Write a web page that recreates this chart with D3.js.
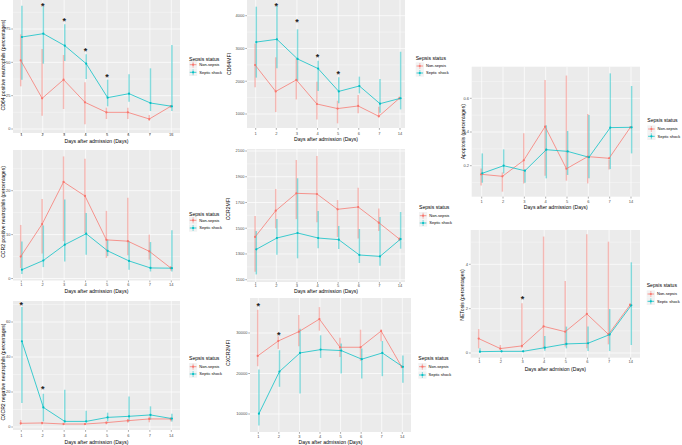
<!DOCTYPE html>
<html><head><meta charset="utf-8">
<script src="https://cdn.jsdelivr.net/npm/d3@7"></script>
<style>body{margin:0;background:#fff} svg{display:block} text{font-family:"Liberation Sans",Arial,sans-serif}</style>
</head><body><svg id="c" width="682" height="445"></svg>
<script>
const days = ["1","2","3","4","5","6","7","14"];
const groups = ["Non-sepsis","Septic shock"];
const colors = ["#F8766D","#00BFC4"];

// Panel A: CD64 positive neutrophils (%)
const cd64pTicks = [0,25,50,75];
const cd64pNon   = [51.5,23,37,20,12.5,12.5,7.5,17];
const cd64pNonLo = [32,10,15,3.5,7.5,7.5,6,16];
const cd64pNonHi = [71,60,55.5,35,16,16,10.5,18];
const cd64pSep   = [69,71.5,62.5,49,23.5,26.5,19.5,17];
const cd64pSepLo = [37,49,51,37.5,17,20.5,13.5,13.5];
const cd64pSepHi = [92.5,92,78.5,56,37,41,45.5,63];
const cd64pStarDays = ["2","3","4","5"];
const cd64pStarVals = [93.5,82.5,60,40.5];

// Panel B: CCR2 positive neutrophils (%)
const ccr2pTicks = [0,10,20];
const ccr2pNon   = [5,12.4,22,18.8,8.8,8.5,6.2,2.4];
const ccr2pNonLo = [2.4,5.7,8.5,10.3,4.7,5.3,4.3,1.8];
const ccr2pNonHi = [12.2,18.1,27.8,27.3,15.4,18.4,10,2.8];
const ccr2pSep   = [2,4.1,7.7,10.2,6.3,4,2.4,2.35];
const ccr2pSepLo = [1,2.6,3.9,5.4,5.1,2,1.6,1.6];
const ccr2pSepHi = [8.4,12.1,18,14.9,8.8,8.5,8.3,11];

// Panel C: CXCR2 negative neutrophils (%)
const cxcr2nTicks = [0,20,40,60];
const cxcr2nNon   = [2.1,2.3,1.7,1.7,2.5,3.6,4.6,4.6];
const cxcr2nNonLo = [1.3,1.5,1.2,1.2,1.5,2.5,2.7,3.2];
const cxcr2nNonHi = [4,3,2.5,2.3,3,4.6,5.9,5.5];
const cxcr2nSep   = [49,11.2,3.2,3.2,5.5,6.1,6.9,4.8];
const cxcr2nSepLo = [13.7,3.2,2.7,2.7,3.2,3.2,4.2,3.2];
const cxcr2nSepHi = [68.6,19,21.3,9.3,8.2,17.5,11.8,7.6];
const cxcr2nStarDays = ["1","2"];
const cxcr2nStarVals = [70.9,22.7];

// Panel D: CD64MFI
const cd64mTicks = [1000,2000,3000,4000];
const cd64mNon   = [2495,1690,2040,1305,1165,1245,930,1480];
const cd64mNonLo = [1815,1060,1445,835,715,1020,900,1430];
const cd64mNonHi = [3155,2730,2700,1985,1405,1580,1225,1530];
const cd64mSep   = [3195,3280,2680,2385,1690,1855,1315,1480];
const cd64mSepLo = [2110,2395,2005,1700,1325,1630,1040,1140];
const cd64mSepHi = [4275,4295,3585,2625,2120,2140,2070,2900];
const cd64mStarDays = ["2","3","4","5"];
const cd64mStarVals = [4360,3870,2780,2260];

// Panel E: CCR2MFI
const ccr2mTicks = [1100,1300,1500,1700,1900,2100];
const ccr2mNon   = [1432,1636,1771,1766,1647,1665,1543,1416];
const ccr2mNonLo = [1162,1499,1571,1546,1432,1421,1478,1400];
const ccr2mNonHi = [1595,1805,2030,2061,1719,1815,1654,1430];
const ccr2mSep   = [1336,1424,1463,1424,1411,1292,1281,1416];
const ccr2mSepLo = [1141,1294,1266,1344,1338,1230,1209,1341];
const ccr2mSepHi = [1478,1571,1888,1634,1517,1494,1587,1626];

// Panel F: CXCR2MFI
const cxcr2mTicks = [10000,20000,30000];
const cxcr2mNon   = [24340,28030,30330,33440,26480,26480,30490,21640];
const cxcr2mNonLo = [21800,26070,26720,30570,24100,23120,27950,21300];
const cxcr2mNonHi = [35740,29180,34430,36390,28850,30820,30900,22000];
const cxcr2mSep   = [10080,20490,25080,25900,25660,23530,25080,21640];
const cxcr2mSepLo = [7130,16720,15080,23850,20000,18770,19340,17700];
const cxcr2mSepHi = [20980,25740,31070,29430,27380,26150,28030,24430];
const cxcr2mStarDays = ["1","2"];
const cxcr2mStarVals = [36970,29840];

// Panel G: Apoptosis (%)
const apoTicks = [0.2,0.4,0.6];
const apoNon   = [0.149,0.137,0.232,0.432,0.182,0.254,0.244,0.428];
const apoNonLo = [0.083,0.046,0.095,0.141,0.111,0.095,0.178,0.424];
const apoNonHi = [0.184,0.16,0.392,0.709,0.735,0.507,0.234,0.432];
const apoSep   = [0.155,0.2,0.17,0.295,0.285,0.25,0.426,0.428];
const apoSepLo = [0.099,0.154,0.099,0.125,0.145,0.125,0.18,0.273];
const apoSepHi = [0.273,0.297,0.18,0.44,0.406,0.501,0.748,0.673];

// Panel H: NETosis (%)
const netTicks = [0,2,4];
const netNon   = [0.65,0.2,0.32,1.2,0.96,1.76,0.84,2.17];
const netNonLo = [0.21,0.14,0.21,0.21,0.29,0.21,0.39,2.1];
const netNonHi = [1.08,0.36,2.24,5.25,3.25,5.35,5.02,2.24];
const netSep   = [0.06,0.075,0.075,0.24,0.41,0.44,0.83,2.15];
const netSepLo = [0.015,0.04,0.04,0.1,0.21,0.09,0.09,0.36];
const netSepHi = [0.21,0.11,0.11,0.77,1.19,1.19,1.98,4.09];
const netStarDays = ["3"];
const netStarVals = [2.51];

const panels = [
 {yt:"CD64 positive neutrophils (percentages)", xt:"Days after admission (Days)", ticks:cd64pTicks, fmt:d=>d,
  s:[[cd64pNon,cd64pNonLo,cd64pNonHi],[cd64pSep,cd64pSepLo,cd64pSepHi]], sd:cd64pStarDays, sv:cd64pStarVals,
  L:{x0:13,x1:180,y0:0,y1:133,xf:21.3,xl:171.3,ya:[0,129],yb:[75,29],tickY:135.8,titleY:142.9,ytx:3.3,yty:65,lx:189,ly:60.5,k1:64.7,k2:72.3}},
 {yt:"CCR2 positive neutrophils (percentages)", xt:"Days after admission (Days)", ticks:ccr2pTicks, fmt:d=>d,
  s:[[ccr2pNon,ccr2pNonLo,ccr2pNonHi],[ccr2pSep,ccr2pSepLo,ccr2pSepHi]], sd:[], sv:[],
  L:{x0:13,x1:180,y0:150,y1:280.5,xf:21.3,xl:171.3,ya:[0,278.5],yb:[20,190.7],tickY:285.5,titleY:292.8,ytx:3.3,yty:212,lx:189,ly:215.8,k1:220.3,k2:228}},
 {yt:"CXCR2 negative neutrophils (percentages)", xt:"Days after admission (Days)", ticks:cxcr2nTicks, fmt:d=>d,
  s:[[cxcr2nNon,cxcr2nNonLo,cxcr2nNonHi],[cxcr2nSep,cxcr2nSepLo,cxcr2nSepHi]], sd:cxcr2nStarDays, sv:cxcr2nStarVals,
  L:{x0:13,x1:180,y0:301,y1:430,xf:21.3,xl:171.3,ya:[0,427],yb:[60,322],tickY:437.2,titleY:443.8,ytx:3.3,yty:372,lx:189,ly:360,k1:366.7,k2:374}},
 {yt:"CD64MFI", xt:"Days after admission (Days)", ticks:cd64mTicks, fmt:d=>d,
  s:[[cd64mNon,cd64mNonLo,cd64mNonHi],[cd64mSep,cd64mSepLo,cd64mSepHi]], sd:cd64mStarDays, sv:cd64mStarVals,
  L:{x0:247,x1:405,y0:0,y1:128,xf:255.7,xl:400,ya:[1000,114],yb:[4000,15.7],tickY:134.8,titleY:141.1,ytx:228.7,yty:64,lx:415.7,ly:59.5,k1:66,k2:73}},
 {yt:"CCR2MFI", xt:"Days after admission (Days)", ticks:ccr2mTicks, fmt:d=>d,
  s:[[ccr2mNon,ccr2mNonLo,ccr2mNonHi],[ccr2mSep,ccr2mSepLo,ccr2mSepHi]], sd:[], sv:[],
  L:{x0:247,x1:405,y0:149,y1:282,xf:255.7,xl:400,ya:[1100,279.7],yb:[2100,151],tickY:287.2,titleY:292.8,ytx:228.3,yty:209,lx:419,ly:208.5,k1:215.7,k2:223}},
 {yt:"CXCR2MFI", xt:"Days after admission (Days)", ticks:cxcr2mTicks, fmt:d=>d,
  s:[[cxcr2mNon,cxcr2mNonLo,cxcr2mNonHi],[cxcr2mSep,cxcr2mSepLo,cxcr2mSepHi]], sd:cxcr2mStarDays, sv:cxcr2mStarVals,
  L:{x0:250,x1:411,y0:298,y1:432,xf:258.3,xl:402.3,ya:[10000,414],yb:[30000,333],tickY:437.5,titleY:443.8,ytx:228.3,yty:353,lx:418.3,ly:360.1,k1:366.7,k2:375}},
 {yt:"Apoptosis (percentages)", xt:"Days after admission (Days)", ticks:apoTicks, fmt:d3.format(".1f"),
  s:[[apoNon,apoNonLo,apoNonHi],[apoSep,apoSepLo,apoSepHi]], sd:[], sv:[],
  L:{x0:471.7,x1:640,y0:66.7,y1:196.7,xf:481.7,xl:631,ya:[0.2,165.7],yb:[0.6,98.3],tickY:203.2,titleY:208.5,ytx:462.7,yty:131.7,lx:647.3,ly:121.8,k1:129,k2:136.3}},
 {yt:"NETosis (percentages)", xt:"Days after admision (Days)", ticks:netTicks, fmt:d=>d,
  s:[[netNon,netNonLo,netNonHi],[netSep,netSepLo,netSepHi]], sd:netStarDays, sv:netStarVals,
  L:{x0:470.7,x1:640,y0:230,y1:357.7,xf:479.3,xl:630.7,ya:[0,353],yb:[4,264.3],tickY:363.2,titleY:370.8,ytx:461.7,yty:295,lx:646.7,ly:286.8,k1:294,k2:301.3}}
];

const svg = d3.select("#c");
const dodge = [-0.6, 0.6];

panels.forEach(p => {
  const L = p.L;
  const g = svg.append("g");
  const x = d3.scalePoint().domain(days).range([L.xf, L.xl]);
  const y = d3.scaleLinear().domain([L.ya[0], L.yb[0]]).range([L.ya[1], L.yb[1]]);
  g.append("rect").attr("x",L.x0).attr("y",L.y0).attr("width",L.x1-L.x0).attr("height",L.y1-L.y0).attr("fill","#EBEBEB");
  const step = p.ticks[1]-p.ticks[0];
  const minor = [];
  for (let i=-1;i<p.ticks.length;i++){ minor.push(p.ticks[0]+step*(i+0.5)); }
  minor.forEach(v=>{ const yy=y(v); if(yy>L.y0 && yy<L.y1)
    g.append("line").attr("x1",L.x0).attr("x2",L.x1).attr("y1",yy).attr("y2",yy).attr("stroke","#fff").attr("stroke-width",0.35);});
  p.ticks.forEach(v=>{ const yy=y(v);
    g.append("line").attr("x1",L.x0).attr("x2",L.x1).attr("y1",yy).attr("y2",yy).attr("stroke","#fff").attr("stroke-width",0.7);});
  days.forEach(d=>{ g.append("line").attr("x1",x(d)).attr("x2",x(d)).attr("y1",L.y0).attr("y2",L.y1).attr("stroke","#fff").attr("stroke-width",0.7);});
  p.s.forEach((ser,gi)=>{
    const [m,lo,hi]=ser;
    days.forEach((d,i)=>{
      g.append("line").attr("x1",x(d)+dodge[gi]).attr("x2",x(d)+dodge[gi]).attr("y1",y(lo[i])).attr("y2",y(hi[i]))
       .attr("stroke",colors[gi]).attr("stroke-width",1.5).attr("stroke-opacity",0.45);
    });
  });
  p.s.forEach((ser,gi)=>{
    const [m]=ser;
    const line = d3.line().x((v,i)=>x(days[i])+dodge[gi]).y(v=>y(v));
    g.append("path").attr("d",line(m)).attr("fill","none").attr("stroke",colors[gi]).attr("stroke-width",0.75);
    days.forEach((d,i)=>{
      g.append("circle").attr("cx",x(d)+dodge[gi]).attr("cy",y(m[i])).attr("r",1.1).attr("fill",colors[gi]);
    });
  });
  p.sd.forEach((d,i)=>{
    g.append("text").attr("x",x(d)).attr("y",y(p.sv[i])+4.6).attr("text-anchor","middle")
     .attr("font-size",9).attr("font-weight","bold").attr("fill","#222").text("*");
  });
  p.ticks.forEach(v=>{ const yy=y(v);
    g.append("line").attr("x1",L.x0-1.8).attr("x2",L.x0).attr("y1",yy).attr("y2",yy).attr("stroke","#333").attr("stroke-width",0.4);
    g.append("text").attr("x",L.x0-2.6).attr("y",yy+1.4).attr("text-anchor","end").attr("font-size",4).attr("fill","#4D4D4D").text(p.fmt(v));
  });
  days.forEach(d=>{
    g.append("line").attr("x1",x(d)).attr("x2",x(d)).attr("y1",L.y1).attr("y2",L.y1+1.8).attr("stroke","#333").attr("stroke-width",0.4);
    g.append("text").attr("x",x(d)).attr("y",L.tickY).attr("text-anchor","middle").attr("font-size",4).attr("fill","#4D4D4D").text(d);
  });
  g.append("text").attr("x",(L.x0+L.x1)/2).attr("y",L.titleY).attr("text-anchor","middle").attr("font-size",5.1).attr("fill","#000").text(p.xt);
  g.append("text").attr("transform",`translate(${L.ytx+1.8},${L.yty}) rotate(-90)`).attr("text-anchor","middle").attr("font-size",5.1).attr("fill","#000").text(p.yt);
  g.append("text").attr("x",L.lx).attr("y",L.ly).attr("font-size",5.1).attr("fill","#000").text("Sepsis status");
  [L.k1,L.k2].forEach((ky,gi)=>{
    g.append("rect").attr("x",L.lx).attr("y",ky-3.7).attr("width",8.2).attr("height",7.4).attr("fill","#F2F2F2");
    g.append("line").attr("x1",L.lx+4.1).attr("x2",L.lx+4.1).attr("y1",ky-3).attr("y2",ky+3).attr("stroke",colors[gi]).attr("stroke-width",1.2).attr("stroke-opacity",0.4);
    g.append("line").attr("x1",L.lx+0.8).attr("x2",L.lx+7.4).attr("y1",ky).attr("y2",ky).attr("stroke",colors[gi]).attr("stroke-width",0.75);
    g.append("circle").attr("cx",L.lx+4.1).attr("cy",ky).attr("r",1.1).attr("fill",colors[gi]);
    g.append("text").attr("x",L.lx+10.3).attr("y",ky+1.4).attr("font-size",4).attr("fill","#000").text(groups[gi]);
  });
});
</script></body></html>
